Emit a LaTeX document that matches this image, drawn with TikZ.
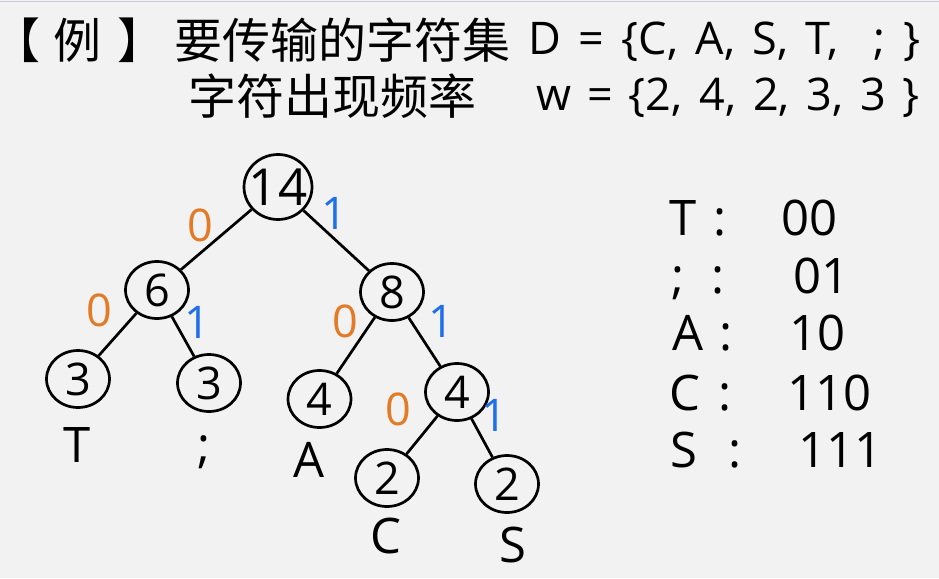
\documentclass[tikz,border=0pt]{standalone}
\usepackage{fontspec}
\setmainfont{Open Sans}
\newfontfamily\cjk{Noto Sans CJK SC}
\usetikzlibrary{shapes.geometric}
\definecolor{bg}{HTML}{F2F2F2}
\definecolor{zeroc}{HTML}{E27A26}
\definecolor{onec}{HTML}{1F6FEB}
\definecolor{topline}{HTML}{C5CBD6}
\tikzset{
  vtx/.style={ellipse,draw=black,line width=2.7pt,minimum width=63pt,minimum height=57pt,inner sep=0pt},
  rootvtx/.style={vtx,minimum width=68pt,minimum height=65pt},
  num/.style={inner sep=0pt,font=\fontsize{45}{45}\selectfont},
  rootnum/.style={inner sep=0pt,font=\fontsize{51}{51}\selectfont},
  edge/.style={line width=2.7pt,black},
  zlab/.style={inner sep=0pt,font=\fontsize{45}{45}\selectfont,text=zeroc},
  olab/.style={inner sep=0pt,font=\fontsize{45}{45}\selectfont,text=onec},
  leaf/.style={inner sep=0pt,anchor=base,font=\fontsize{49}{49}\selectfont},
  code/.style={inner sep=0pt,anchor=base west,font=\fontsize{49}{49}\selectfont},
  colon/.style={inner sep=0pt,anchor=base,font=\fontsize{49}{49}\selectfont},
  cjkt/.style={inner sep=0pt,anchor=base west,font=\cjk\fontsize{48}{48}\selectfont},
  latt/.style={inner sep=0pt,anchor=base west,font=\fontsize{45}{45}\selectfont}
}
\begin{document}
\begin{tikzpicture}[x=1pt,y=-1pt]
\fill[bg] (0,0) rectangle (939,578);
\useasboundingbox (0,0) rectangle (939,578);
\draw[topline,line width=1.5pt] (0,1.5) -- (939,1.5);

% title
\node[cjkt] (b1) at (1,59) {\hspace*{-9pt}【};
\node[cjkt] (li) at (53,59) {例};
\node[cjkt] (b2) at (117,59) {】};
\node[cjkt] (t1) at (174,59) {要传输的字符集};
\node[latt] (t1l) at (528,55) {\makebox[392pt][s]{D = \{C, A, S, T,\ \ ;\ \}}};
\node[cjkt] (t2) at (188,114) {字符出现频率};
\node[latt] (t2l) at (536,110) {\makebox[383pt][s]{w = \{2, 4, 2, 3, 3\ \}}};

% tree nodes
\node[rootvtx] (r) at (278,187) {};
\node[rootnum] (rt) at (r) {14};
\node[vtx] (n6) at (157,290) {};
\node[num] (n6t) at (n6) {6};
\node[vtx] (n8) at (392,292) {};
\node[num] (n8t) at (n8) {8};
\node[vtx] (t3) at (78,379) {};
\node[num] (t3t) at (t3) {3};
\node[vtx] (s3) at (209,383) {};
\node[num] (s3t) at (s3) {3};
\node[vtx] (a4) at (319.5,399) {};
\node[num] (a4t) at (a4) {4};
\node[vtx] (n4) at (457,392) {};
\node[num] (n4t) at (n4) {4};
\node[vtx] (c2) at (387,478) {};
\node[num] (c2t) at (c2) {2};
\node[vtx] (s2) at (507,484) {};
\node[num] (s2t) at (s2) {2};

% edges
\draw[edge] (r) -- (n6);
\draw[edge] (r) -- (n8);
\draw[edge] (n6) -- (t3);
\draw[edge] (n6) -- (s3);
\draw[edge] (n8) -- (a4);
\draw[edge] (n8) -- (n4);
\draw[edge] (n4) -- (c2);
\draw[edge] (n4) -- (s2);

% edge labels
\node[zlab] (e1) at (200,225) {0};
\node[olab] (e2) at (334,213) {1};
\node[zlab] (e3) at (99,310) {0};
\node[olab] (e4) at (197,322) {1};
\node[zlab] (e5) at (345,321) {0};
\node[olab] (e6) at (441,321) {1};
\node[zlab] (e7) at (398,409) {0};
\node[olab] (e8) at (494,415) {1};

% leaf letters
\node[leaf] (lT) at (77,462) {T};
\node[leaf] (lsc) at (204,462) {;};
\node[leaf] (lA) at (309,477) {A};
\node[leaf] (lC) at (386,553) {C};
\node[leaf] (lS) at (512.5,562) {S};

% code table
\node[code] (cT) at (669,235) {T};
\node[colon] (kT) at (720,235) {:};
\node[code] (vT) at (781,235) {00};
\node[code] (csc) at (671,293) {;};
\node[colon] (ksc) at (718,293) {:};
\node[code] (vsc) at (793,293) {01};
\node[code] (cA) at (672,350) {A};
\node[colon] (kA) at (726,350) {:};
\node[code] (vA) at (789,350) {10};
\node[code] (cC) at (669,410) {C};
\node[colon] (kC) at (725,410) {:};
\node[code] (vC) at (787,410) {110};
\node[code] (cS) at (670,467) {S};
\node[colon] (kS) at (735,467) {:};
\node[code] (vS) at (798,467) {111};
\end{tikzpicture}
\end{document}
